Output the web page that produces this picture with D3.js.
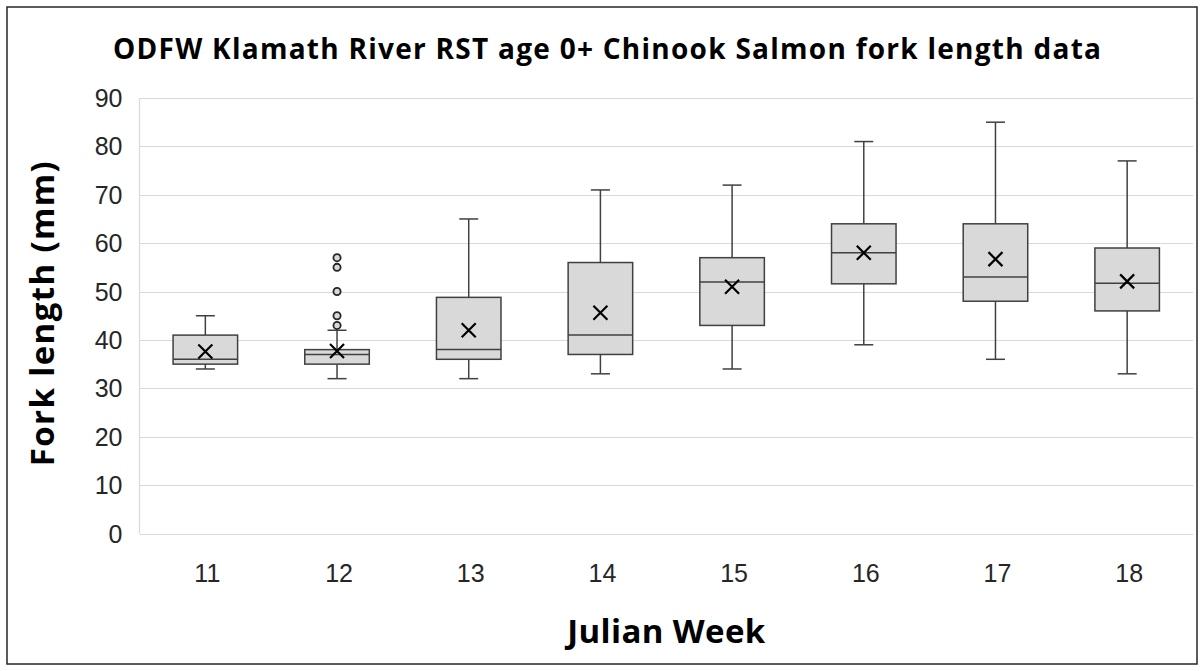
<!DOCTYPE html>
<html>
<head>
<meta charset="utf-8">
<script src="https://cdn.jsdelivr.net/npm/d3@7"></script>
<style>
  body { margin: 0; background: #fff; }
  svg { display: block; }
</style>
</head>
<body>
<div id="chart"></div>
<script>
// box plot values (Julian week -> fork length in mm)
const weeks    = ["11", "12", "13", "14", "15", "16", "17", "18"];
const mins     = [34, 32, 32, 33, 34, 39, 36, 33];
const q1s      = [35, 35, 36, 37, 43, 51.6, 48, 46];
const medians  = [36, 37, 38, 41, 52, 58, 53, 51.7];
const q3s      = [41, 38, 48.8, 56, 57, 64, 64, 59];
const maxs     = [45, 42, 65, 71, 72, 81, 85, 77];
const means    = [37.6, 37.7, 42.0, 45.6, 51, 58, 56.7, 52.1];
const outliers = [[], [43, 45, 50, 55, 57], [], [], [], [], [], []];
const yTicks   = [0, 10, 20, 30, 40, 50, 60, 70, 80, 90];

const W = 1204, H = 671;
const margin = { left: 139.5, right: 11, top: 98, bottom: 137.5 };

const svg = d3.select("#chart").append("svg")
    .attr("width", W)
    .attr("height", H);

// chart border
svg.append("rect")
    .attr("x", 7).attr("y", 7)
    .attr("width", 1190).attr("height", 657)
    .attr("fill", "#fff")
    .attr("stroke", "#262626")
    .attr("stroke-width", 1.5);

const x = d3.scaleBand()
    .domain(weeks)
    .range([margin.left, W - margin.right]);

const y = d3.scaleLinear()
    .domain([0, 90])
    .range([H - margin.bottom, margin.top]);

const boxW = x.bandwidth() * 0.49;
const capW = 19;

// gridlines
svg.append("g")
    .selectAll("line")
    .data(yTicks)
    .join("line")
    .attr("x1", margin.left)
    .attr("x2", W - margin.right)
    .attr("y1", d => Math.round(y(d)) + 0.5)
    .attr("y2", d => Math.round(y(d)) + 0.5)
    .attr("stroke", "#d9d9d9")
    .attr("stroke-width", 1.2);

// left axis line
svg.append("line")
    .attr("x1", margin.left).attr("x2", margin.left)
    .attr("y1", y(90)).attr("y2", y(0))
    .attr("stroke", "#d9d9d9")
    .attr("stroke-width", 1.2);

// y tick labels
svg.append("g")
    .selectAll("text")
    .data(yTicks)
    .join("text")
    .attr("x", margin.left - 17)
    .attr("y", d => y(d))
    .attr("dy", "0.36em")
    .attr("text-anchor", "end")
    .attr("font-family", "Liberation Sans, Arial, sans-serif")
    .attr("font-size", 25)
    .attr("fill", "#262626")
    .text(d => d);

// x tick labels
svg.append("g")
    .selectAll("text")
    .data(weeks)
    .join("text")
    .attr("x", d => x(d) + x.bandwidth() / 2 + 2)
    .attr("y", 582)
    .attr("text-anchor", "middle")
    .attr("font-family", "Liberation Sans, Arial, sans-serif")
    .attr("font-size", 25)
    .attr("fill", "#262626")
    .text(d => d);

const idx = weeks.map((w, i) => i);
const cx = i => x(weeks[i]) + x.bandwidth() / 2;

const boxes = svg.append("g")
    .selectAll("g")
    .data(idx)
    .join("g");

const stroke = "#404040";

// whiskers
boxes.append("line")
    .attr("x1", cx).attr("x2", cx)
    .attr("y1", i => y(maxs[i])).attr("y2", i => y(q3s[i]))
    .attr("stroke", stroke).attr("stroke-width", 1.5);
boxes.append("line")
    .attr("x1", cx).attr("x2", cx)
    .attr("y1", i => y(q1s[i])).attr("y2", i => y(mins[i]))
    .attr("stroke", stroke).attr("stroke-width", 1.5);
boxes.append("line")
    .attr("x1", i => cx(i) - capW / 2).attr("x2", i => cx(i) + capW / 2)
    .attr("y1", i => y(maxs[i])).attr("y2", i => y(maxs[i]))
    .attr("stroke", stroke).attr("stroke-width", 1.5);
boxes.append("line")
    .attr("x1", i => cx(i) - capW / 2).attr("x2", i => cx(i) + capW / 2)
    .attr("y1", i => y(mins[i])).attr("y2", i => y(mins[i]))
    .attr("stroke", stroke).attr("stroke-width", 1.5);

// boxes
boxes.append("rect")
    .attr("x", i => cx(i) - boxW / 2)
    .attr("width", boxW)
    .attr("y", i => y(q3s[i]))
    .attr("height", i => y(q1s[i]) - y(q3s[i]))
    .attr("fill", "#d9d9d9")
    .attr("stroke", stroke)
    .attr("stroke-width", 1.5);

// medians
boxes.append("line")
    .attr("x1", i => cx(i) - boxW / 2).attr("x2", i => cx(i) + boxW / 2)
    .attr("y1", i => y(medians[i])).attr("y2", i => y(medians[i]))
    .attr("stroke", stroke).attr("stroke-width", 1.5);

// mean markers (X)
const m = 7;
boxes.append("path")
    .attr("d", i => {
        const px = cx(i), py = y(means[i]);
        return `M${px - m},${py - m}L${px + m},${py + m}M${px - m},${py + m}L${px + m},${py - m}`;
    })
    .attr("stroke", "#000")
    .attr("stroke-width", 2.2)
    .attr("fill", "none");

// outliers
boxes.each(function (i) {
    d3.select(this).selectAll("circle")
        .data(outliers[i])
        .join("circle")
        .attr("cx", cx(i))
        .attr("cy", d => y(d))
        .attr("r", 3.6)
        .attr("fill", "#d9d9d9")
        .attr("stroke", "#262626")
        .attr("stroke-width", 1.8);
});

// title - stretched by spacing to the reference width
svg.append("text")
    .attr("x", 607)
    .attr("y", 59)
    .attr("text-anchor", "middle")
    .attr("font-family", "Open Sans, sans-serif")
    .attr("font-weight", 700)
    .attr("font-size", 28)
    .attr("textLength", 988)
    .attr("lengthAdjust", "spacing")
    .attr("fill", "#000")
    .text("ODFW Klamath River RST age 0+ Chinook Salmon fork length data");

// axis titles
svg.append("text")
    .attr("x", (margin.left + W - margin.right) / 2)
    .attr("y", 643)
    .attr("text-anchor", "middle")
    .attr("font-family", "Open Sans, sans-serif")
    .attr("font-weight", 700)
    .attr("font-size", 33)
    .attr("textLength", 198)
    .attr("lengthAdjust", "spacing")
    .attr("fill", "#000")
    .text("Julian Week");

svg.append("text")
    .attr("transform", `translate(54,${(y(0) + y(90)) / 2 - 2}) rotate(-90)`)
    .attr("text-anchor", "middle")
    .attr("font-family", "Open Sans, sans-serif")
    .attr("font-weight", 700)
    .attr("font-size", 33)
    .attr("textLength", 305)
    .attr("lengthAdjust", "spacing")
    .attr("fill", "#000")
    .text("Fork length (mm)");
</script>
</body>
</html>
